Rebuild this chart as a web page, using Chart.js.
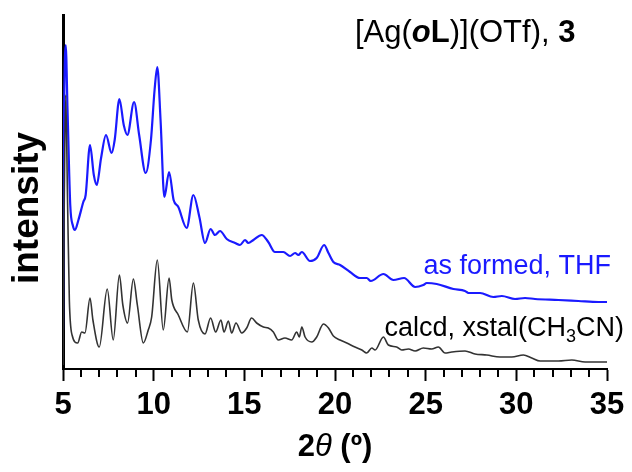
<!DOCTYPE html>
<html>
<head>
<meta charset="utf-8">
<script src="https://cdn.jsdelivr.net/npm/chart.js@4"></script>
<style>
  body { margin: 0; background: #fff; }
  canvas { display: block; }
</style>
</head>
<body>
<canvas id="xrd-chart" width="632" height="472"></canvas>
<script>
// 2theta / intensity (arbitrary units)
const formedX = [5.00, 5.06, 5.15, 5.25, 5.40, 5.55, 5.66, 5.85, 6.12, 6.25, 6.49, 6.70, 6.86, 7.10, 7.37, 7.68, 7.85, 8.11, 8.35, 8.55,
                 8.92, 9.20, 9.56, 9.85, 10.05, 10.20, 10.38, 10.59, 10.85, 11.10, 11.36, 11.82, 12.19, 12.52, 12.83, 13.14, 13.38, 13.66, 14.03, 14.49,
                 14.76, 15.04, 15.22, 15.50, 15.96, 16.32, 16.69, 17.15, 17.52, 17.80, 17.98, 18.17, 18.62, 18.99, 19.40, 19.64, 19.91, 20.28, 20.83, 21.38,
                 21.75, 21.97, 22.67, 23.22, 23.81, 24.42, 24.87, 25.06, 25.61, 26.53, 27.17, 27.36, 28.00, 28.73, 29.20, 29.93, 30.48, 31.03, 32.32, 33.42,
                 34.53, 35.00];
const formedY = [39, 249, 324, 259, 164, 143, 139, 149, 167, 174, 224, 194, 184, 211, 234, 216, 229, 270, 244, 234,
                 267, 234, 196, 229, 279, 302, 249, 172, 197, 169, 162, 141, 174, 152, 126, 140, 134, 138, 130, 126,
                 124, 129, 126, 129, 134, 127, 117, 117, 113, 116, 114, 117, 108, 111, 124, 116, 107, 104, 97, 91,
                 91, 88, 95, 89, 91, 82, 84, 86, 85, 80, 78, 76, 76, 72, 73, 70, 71, 70, 69, 68,
                 67, 67];

const calcX = [5.00, 5.07, 5.15, 5.25, 5.35, 5.50, 5.81, 6.03, 6.21, 6.49, 6.65, 7.00, 7.44, 7.77, 8.11, 8.30, 8.56, 8.88, 9.10, 9.43,
               9.70, 9.89, 10.20, 10.53, 10.85, 11.00, 11.36, 11.86, 12.19, 12.46, 12.83, 13.14, 13.42, 13.71, 13.88, 14.12, 14.30, 14.54, 14.86, 15.13,
               15.40, 15.68, 16.05, 16.32, 16.60, 16.87, 17.24, 17.61, 17.89, 18.03, 18.17, 18.35, 18.72, 18.99, 19.36, 19.64, 19.91, 20.28, 20.65, 21.10,
               21.48, 21.75, 22.03, 22.21, 22.67, 22.94, 23.40, 23.68, 24.05, 24.42, 24.87, 25.33, 25.70, 26.07, 26.44, 27.17, 27.72, 28.37, 29.10, 29.75,
               30.39, 30.85, 31.31, 32.32, 33.06, 33.79, 34.53, 35.00];
const calcY = [4, 169, 274, 169, 69, 34, 26, 37, 36, 71, 49, 22, 80, 29, 94, 64, 46, 90, 64, 26,
               39, 52, 109, 39, 91, 69, 54, 37, 86, 49, 35, 51, 37, 49, 37, 48, 36, 46, 36, 41,
               51, 46, 42, 41, 37, 29, 31, 29, 37, 32, 42, 32, 27, 32, 45, 41, 33, 29, 26, 22,
               19, 16, 21, 19, 32, 24, 22, 19, 20, 18, 21, 20, 22, 16, 17, 18, 15, 14, 12, 12,
               14, 11, 8, 8, 9, 7, 7, 7];

const xTicks = [5, 10, 15, 20, 25, 30, 35];

// 画刻度和文字
const extrasPlugin = {
    id: 'extras',
    afterDraw(chart) {
        const ctx = chart.ctx;
        const xs = chart.scales.x;
        const bottom = chart.chartArea.bottom;
        ctx.save();

        // 小刻度
        ctx.strokeStyle = '#000';
        ctx.lineWidth = 2;
        for (let v = 5; v <= 35; v++) {
            if (xTicks.includes(v)) continue;
            const px = Math.round(xs.getPixelForValue(v));
            ctx.beginPath();
            ctx.moveTo(px, bottom);
            ctx.lineTo(px, bottom + 8);
            ctx.stroke();
        }

        const fam = '"Liberation Sans", Arial, sans-serif';
        const runs = (parts, x, y) => {
            let cx = x;
            parts.forEach(p => {
                ctx.font = p.font;
                ctx.fillStyle = p.color || '#000';
                ctx.fillText(p.text, cx, y + (p.dy || 0));
                cx += ctx.measureText(p.text).width;
            });
            return cx - x;
        };
        const width = parts => {
            let w = 0;
            parts.forEach(p => { ctx.font = p.font; w += ctx.measureText(p.text).width; });
            return w;
        };
        ctx.textBaseline = 'alphabetic';
        ctx.textAlign = 'left';

        // 标题
        runs([
            { text: '[Ag(', font: '31px ' + fam },
            { text: 'o', font: 'italic bold 31px ' + fam },
            { text: 'L', font: 'bold 31px ' + fam },
            { text: ')](OTf), ', font: '31px ' + fam },
            { text: '3', font: 'bold 31px ' + fam }
        ], 355, 42);

        // 图例文字
        const formedLabel = [{ text: 'as formed, THF', font: '27px ' + fam, color: '#1a1aff' }];
        runs(formedLabel, 611 - width(formedLabel), 274);
        const calcLabel = [
            { text: 'calcd, xstal(CH', font: '27px ' + fam },
            { text: '3', font: '18px ' + fam, dy: 6 },
            { text: 'CN)', font: '27px ' + fam }
        ];
        runs(calcLabel, 624 - width(calcLabel), 336);

        // x 轴标题
        const xTitle = [
            { text: '2', font: 'bold 31px ' + fam },
            { text: 'θ', font: 'italic 31px ' + fam },
            { text: ' (º)', font: 'bold 31px ' + fam }
        ];
        const cx = (chart.chartArea.left + chart.chartArea.right) / 2;
        runs(xTitle, cx - width(xTitle) / 2, 456);

        // y 轴标题
        ctx.translate(28, 208);
        ctx.rotate(-Math.PI / 2);
        ctx.font = 'bold 37px ' + fam;
        ctx.fillStyle = '#000';
        ctx.textAlign = 'center';
        ctx.textBaseline = 'middle';
        ctx.fillText('intensity', 0, 0);

        ctx.restore();
    }
};

const ctx = document.getElementById('xrd-chart').getContext('2d');

new Chart(ctx, {
    type: 'line',
    data: {
        datasets: [{
            label: 'calcd, xstal(CH3CN)',
            data: calcX.map((x, i) => ({ x: x, y: calcY[i] })),
            borderColor: '#333333',
            borderWidth: 1.6,
            pointRadius: 0,
            cubicInterpolationMode: 'monotone',
            fill: false
        }, {
            label: 'as formed, THF',
            data: formedX.map((x, i) => ({ x: x, y: formedY[i] })),
            borderColor: '#1a1aff',
            borderWidth: 2.2,
            pointRadius: 0,
            cubicInterpolationMode: 'monotone',
            fill: false
        }]
    },
    options: {
        responsive: false,
        animation: false,
        layout: {
            padding: { top: 15, right: 25, left: 0, bottom: 0 }
        },
        scales: {
            x: {
                type: 'linear',
                min: 5,
                max: 35,
                afterFit: scale => { scale.height = 103; },
                afterBuildTicks: scale => { scale.ticks = xTicks.map(v => ({ value: v })); },
                border: { color: '#000', width: 2 },
                grid: {
                    drawOnChartArea: false,
                    drawTicks: true,
                    tickLength: 12,
                    tickWidth: 2,
                    tickColor: '#000'
                },
                ticks: {
                    color: '#000',
                    padding: 6,
                    maxRotation: 0,
                    autoSkip: false,
                    font: { family: '"Liberation Sans", Arial, sans-serif', weight: 'bold', size: 31 }
                }
            },
            y: {
                min: 0,
                max: 354,
                afterFit: scale => { scale.width = 63; },
                border: { color: '#000', width: 3 },
                grid: { drawOnChartArea: false, drawTicks: false },
                ticks: { display: false }
            }
        },
        plugins: {
            legend: { display: false },
            tooltip: { enabled: false }
        }
    },
    plugins: [extrasPlugin]
});
</script>
</body>
</html>
